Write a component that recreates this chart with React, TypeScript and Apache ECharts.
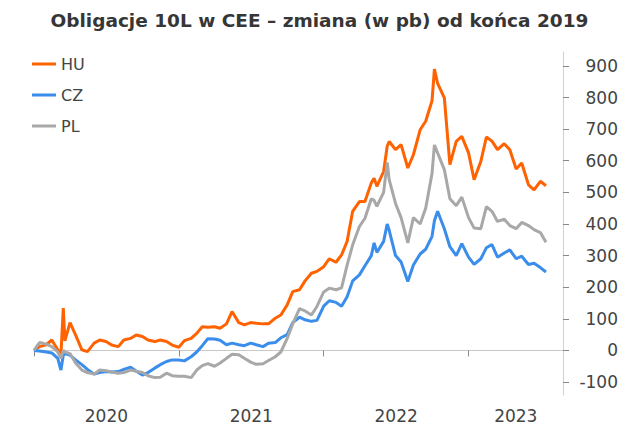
import React, { useEffect, useRef } from "react";
import * as echarts from "echarts";

const title = "Obligacje 10L w CEE – zmiana (w pb) od końca 2019";
const seriesNames = ["HU", "CZ", "PL"];
const colors = ["#FF6200", "#3A8DEB", "#A8A8A8"];

const dates = [
  "2020-01-01", "2020-01-15", "2020-02-01", "2020-02-15", "2020-03-01", "2020-03-09", "2020-03-15", "2020-03-19",
  "2020-04-01", "2020-04-15", "2020-05-01", "2020-05-15", "2020-06-01", "2020-06-15", "2020-07-01", "2020-07-15",
  "2020-08-01", "2020-08-15", "2020-09-01", "2020-09-15", "2020-10-01", "2020-10-15", "2020-11-01", "2020-11-15",
  "2020-12-01", "2020-12-15",
  "2021-01-01", "2021-01-15", "2021-02-01", "2021-02-15", "2021-03-01", "2021-03-15", "2021-04-01", "2021-04-15",
  "2021-05-01", "2021-05-15", "2021-06-01", "2021-06-15", "2021-07-01", "2021-07-15", "2021-08-01", "2021-08-15",
  "2021-09-01", "2021-09-15", "2021-10-01", "2021-10-15", "2021-11-01", "2021-11-15", "2021-12-01", "2021-12-15",
  "2022-01-01", "2022-01-15", "2022-02-01", "2022-02-15", "2022-03-01", "2022-03-15", "2022-04-01", "2022-04-15",
  "2022-05-01", "2022-05-08", "2022-05-15", "2022-06-01", "2022-06-10", "2022-06-15", "2022-07-01", "2022-07-15",
  "2022-08-01", "2022-08-15", "2022-09-01", "2022-09-15", "2022-10-01", "2022-10-07", "2022-10-15", "2022-11-01",
  "2022-11-15", "2022-12-01", "2022-12-15",
  "2023-01-01", "2023-01-15", "2023-02-01", "2023-02-15", "2023-03-01", "2023-03-15", "2023-04-01", "2023-04-15",
  "2023-05-01", "2023-05-15", "2023-06-01", "2023-06-15", "2023-07-01", "2023-07-15",
];

const huValues = [
  0, 12, 18, 33, 2, -15, 134, 30,
  88, 49, 2, -4, 23, 33, 28, 17,
  12, 33, 38, 49, 44, 33, 28, 33,
  28, 17,
  10, 31, 38, 54, 75, 73, 75, 70,
  84, 123, 88, 81, 88, 86, 84, 84,
  102, 112, 144, 186, 192, 220, 244, 250,
  265, 290, 279, 302, 345, 440, 471, 471,
  530, 545, 519, 566, 646, 661, 635, 651,
  577, 619, 698, 725, 790, 890, 845, 799,
  588, 661, 677,
  625, 540, 598, 675, 662, 635, 654, 635,
  574, 593, 524, 508, 535, 521,
];

const czValues = [
  0, -2, -5, -8, -25, -62, -15, -10,
  -15, -30, -45, -60, -75, -70, -67, -68,
  -67, -60, -53, -65, -78, -70, -56, -45,
  -35, -30,
  -30, -33, -20, -5, 15, 37, 36, 32,
  18, 23, 18, 15, 23, 18, 12, 23,
  25, 40, 50, 88, 105, 97, 92, 95,
  140, 157, 152, 140, 170, 220, 239, 268,
  300, 340, 310, 345, 400, 380, 300, 280,
  218, 270, 305, 320, 361, 410, 440, 385,
  328, 300, 338,
  295, 272, 290, 325, 335, 295, 308, 318,
  290, 298, 272, 276, 262, 248,
];

const plValues = [
  0, 25, 20, 12, -5, -25, 0, -5,
  -10, -40, -62, -70, -75, -62, -64, -68,
  -72, -70, -62, -66, -70, -80, -86, -85,
  -72, -80,
  -82, -82, -86, -62, -48, -42, -50, -40,
  -25, -12, -14, -25, -37, -44, -42, -32,
  -20, -5, 38, 84, 132, 125, 112, 139,
  185, 197, 192, 198, 270, 334, 392, 418,
  480, 475, 456, 500, 595, 540, 465, 420,
  340, 420, 400, 450, 560, 650, 625, 572,
  480, 458, 485,
  420, 387, 385, 455, 440, 408, 415, 395,
  385, 405, 395, 382, 373, 342,
];

const yTicks = [-100, 0, 100, 200, 300, 400, 500, 600, 700, 800, 900];
const yearTicks = [2020, 2021, 2022, 2023];
const xStart = "2020-01-01";
const xEnd = "2023-08-27";
const yMin = -141;
const yMax = 944;

function toYear(s: string): number {
  const [y, m, d] = s.split("-").map(Number);
  const start = Date.UTC(y, 0, 1);
  const end = Date.UTC(y + 1, 0, 1);
  const t = Date.UTC(y, m - 1, d);
  return y + (t - start) / (end - start);
}

export default function App() {
  const ref = useRef<HTMLDivElement>(null);
  useEffect(() => {
    if (!ref.current) return;
    const chart = echarts.init(ref.current, null, { renderer: "svg" });
    const xs = dates.map(toYear);
    const xMin = toYear(xStart);
    const xMax = toYear(xEnd);
    const labelPos = yearTicks.map((y, i) => {
      const a = Math.max(y, xMin);
      const b = i < yearTicks.length - 1 ? yearTicks[i + 1] : xMax;
      return (a + b) / 2;
    });
    const allValues = [huValues, czValues, plValues];
    const font = "DejaVu Sans";
    chart.setOption({
      animation: false,
      title: {
        text: title,
        left: "center",
        top: 6,
        textStyle: { fontFamily: font, fontSize: 18.5, fontWeight: "bold", color: "#363636" },
      },
      legend: {
        orient: "vertical",
        left: 32,
        top: 56,
        padding: 0,
        itemWidth: 24,
        itemHeight: 3,
        itemGap: 15,
        icon: "rect",
        data: seriesNames,
        textStyle: { fontFamily: font, fontSize: 16, color: "#444444", lineHeight: 16 },
      },
      grid: { left: 34, right: 76, top: 52, bottom: 44, containLabel: false },
      xAxis: {
        type: "value",
        min: xMin,
        max: xMax,
        splitLine: { show: false },
        axisLine: { show: true, lineStyle: { color: "#c8c8c8", width: 1 } },
        axisTick: { show: true, customValues: yearTicks, length: 6, lineStyle: { color: "#888888" } },
        axisLabel: {
          customValues: labelPos,
          formatter: (v: number) => String(Math.floor(v)),
          fontFamily: font,
          fontSize: 17,
          color: "#444444",
          margin: 12,
        },
      },
      yAxis: {
        type: "value",
        position: "right",
        min: yMin,
        max: yMax,
        splitLine: { show: false },
        axisLine: { show: true, lineStyle: { color: "#d0d0d0", width: 1 } },
        axisTick: { show: true, customValues: yTicks, length: 6, lineStyle: { color: "#888888" } },
        axisLabel: {
          customValues: yTicks,
          fontFamily: font,
          fontSize: 17,
          color: "#444444",
          align: "right",
          margin: 55,
        },
      },
      series: seriesNames.map((name, i) => ({
        name,
        type: "line",
        showSymbol: false,
        symbol: "none",
        color: colors[i],
        lineStyle: { width: 3, color: colors[i] },
        data: xs.map((x, j) => [x, allValues[i][j]]),
      })),
    });
    return () => chart.dispose();
  }, []);
  return (
    <div
      ref={ref}
      style={{ position: "fixed", left: 0, top: 0, width: 639, height: 439, background: "#ffffff" }}
    />
  );
}
